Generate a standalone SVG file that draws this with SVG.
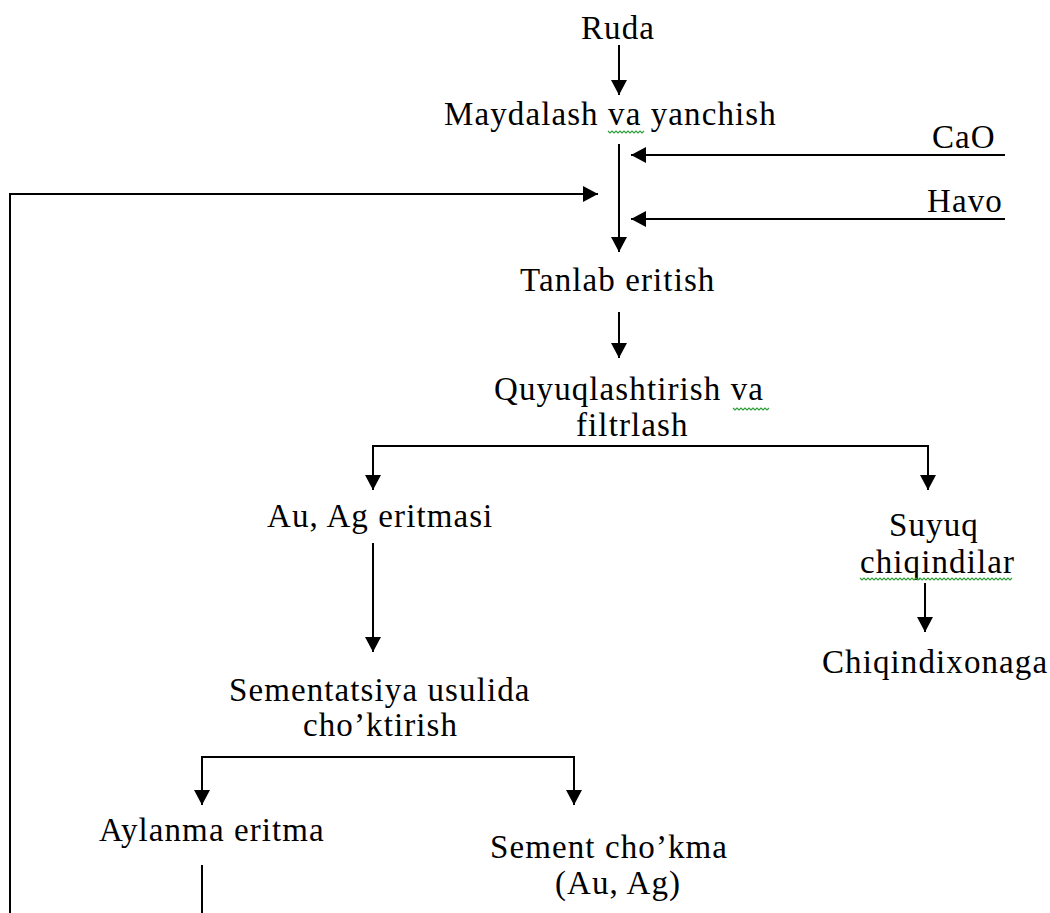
<svg xmlns="http://www.w3.org/2000/svg" width="1050" height="913" viewBox="0 0 1050 913">
<style>
text{font-family:"Liberation Serif","Times New Roman",serif;font-size:33px;fill:#000;letter-spacing:1.1px}
.c{fill:none;stroke:#000;stroke-width:2}
.sq{fill:none;stroke:#2e9e3a;stroke-width:1.2}
</style>
<defs>
<marker id="ah" markerUnits="userSpaceOnUse" markerWidth="16" markerHeight="16" refX="15" refY="8" orient="auto"><path d="M0,0 L15,8 L0,16 z" fill="#000"/></marker>
</defs>
<rect width="1050" height="913" fill="#fff"/>
<g id="connectors">
<path class="c" d="M619,45 V95" marker-end="url(#ah)"/>
<path class="c" d="M619,144 V252" marker-end="url(#ah)"/>
<path class="c" d="M1005,155 H631" marker-end="url(#ah)"/>
<path class="c" d="M1005,219 H631" marker-end="url(#ah)"/>
<path class="c" d="M10,913 V194 H598" marker-end="url(#ah)"/>
<path class="c" d="M619,312 V358" marker-end="url(#ah)"/>
<path class="c" d="M373,446 H928"/>
<path class="c" d="M373,445 V490" marker-end="url(#ah)"/>
<path class="c" d="M928,445 V490" marker-end="url(#ah)"/>
<path class="c" d="M373,543 V652" marker-end="url(#ah)"/>
<path class="c" d="M925,583 V632" marker-end="url(#ah)"/>
<path class="c" d="M202,757 H574"/>
<path class="c" d="M202,756 V805" marker-end="url(#ah)"/>
<path class="c" d="M574,756 V805" marker-end="url(#ah)"/>
<path class="c" d="M202,865 V913"/>
</g>
<g id="ruda"><text x="581" y="39">Ruda</text></g>
<g id="maydalash"><text x="444" y="125">Maydalash va yanchish</text>
<polyline class="sq" points="608,131 610,133 612,131 614,133 616,131 618,133 620,131 622,133 624,131 626,133 628,131 630,133 632,131 634,133 636,131 638,133 640,131 642,133 644,131"/></g>
<g id="cao"><text x="932" y="148">CaO</text></g>
<g id="havo"><text x="927" y="212">Havo</text></g>
<g id="tanlab"><text x="520" y="291">Tanlab eritish</text></g>
<g id="quyuq"><text x="494" y="400">Quyuqlashtirish va</text><text x="576" y="436">filtrlash</text>
<polyline class="sq" points="733,408 735,410 737,408 739,410 741,408 743,410 745,408 747,410 749,408 751,410 753,408 755,410 757,408 759,410 761,408 763,410 765,408 767,410 769,408"/></g>
<g id="auag"><text x="267" y="527">Au, Ag eritmasi</text></g>
<g id="suyuq"><text x="889" y="536">Suyuq</text><text x="860" y="573">chiqindilar</text>
<polyline class="sq" points="860,578 862,580 864,578 866,580 868,578 870,580 872,578 874,580 876,578 878,580 880,578 882,580 884,578 886,580 888,578 890,580 892,578 894,580 896,578 898,580 900,578 902,580 904,578 906,580 908,578 910,580 912,578 914,580 916,578 918,580 920,578 922,580 924,578 926,580 928,578 930,580 932,578 934,580 936,578 938,580 940,578 942,580 944,578 946,580 948,578 950,580 952,578 954,580 956,578 958,580 960,578 962,580 964,578 966,580 968,578 970,580 972,578 974,580 976,578 978,580 980,578 982,580 984,578 986,580 988,578 990,580 992,578 994,580 996,578 998,580 1000,578 1002,580 1004,578 1006,580 1008,578 1010,580 1012,578"/></g>
<g id="chiqindixonaga"><text x="822" y="673">Chiqindixonaga</text></g>
<g id="sementatsiya"><text x="229" y="701">Sementatsiya usulida</text><text x="303" y="736">cho’ktirish</text></g>
<g id="aylanma"><text x="99" y="841">Aylanma eritma</text></g>
<g id="sement"><text x="490" y="858">Sement cho’kma</text><text x="555" y="894">(Au, Ag)</text></g>
</svg>
